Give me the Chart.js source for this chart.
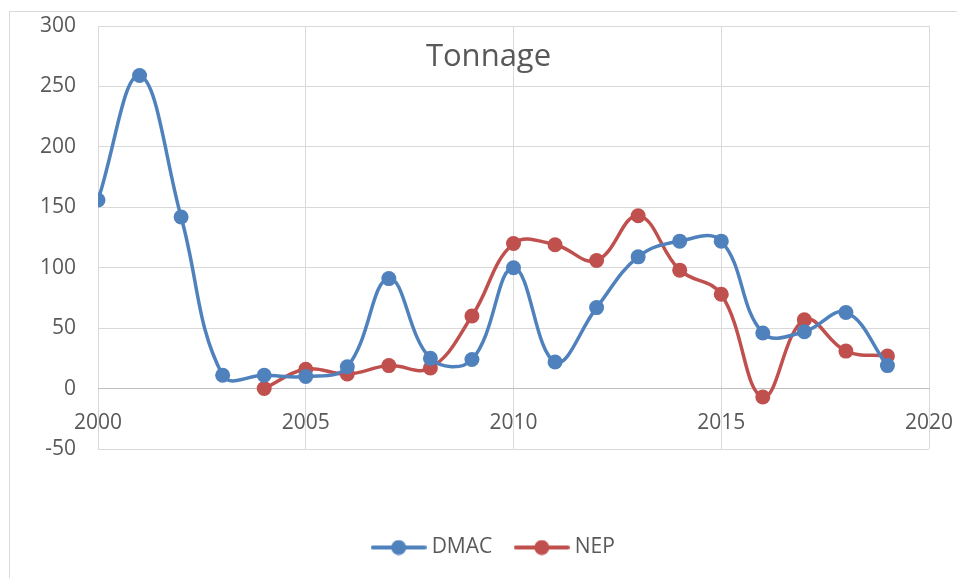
<!DOCTYPE html>
<html>
<head>
<meta charset="utf-8">
<script src="https://cdn.jsdelivr.net/npm/chart.js@4.4.1/dist/chart.umd.min.js"></script>
<style>
  html, body { margin: 0; padding: 0; background: #fff; }
  #wrap { position: relative; width: 957px; height: 578px; overflow: hidden; }
  #frame { position: absolute; left: 9px; top: 11px; width: 1000px; height: 700px;
           border-left: 1px solid #d9d9d9; border-top: 1px solid #d9d9d9; }
  canvas { position: absolute; left: 0; top: 0; }
</style>
</head>
<body>
<div id="wrap">
  <div id="frame"></div>
  <canvas id="chart" width="957" height="578"></canvas>
</div>
<script>
const years = [2000, 2001, 2002, 2003, 2004, 2005, 2006, 2007, 2008, 2009,
               2010, 2011, 2012, 2013, 2014, 2015, 2016, 2017, 2018, 2019];
const dmac = [156, 259, 142, 11, 11, 10, 18, 91, 25, 24,
              100, 22, 67, 109, 122, 122, 46, 47, 63, 19];
const nep = [null, null, null, null, 0, 16, 12, 19, 17, 60,
             120, 119, 106, 143, 98, 78, -7, 57, 31, 27];
const seriesNames = ['DMAC', 'NEP'];
const xMin = 2000, xMax = 2020, xStep = 5;
const yMin = -50, yMax = 300, yStep = 50;
const chartTitle = 'Tonnage';

const BLUE = '#4f81bd';
const RED = '#c0504d';
const TEXT = '#595959';
const GRID = '#d9d9d9';
const FONT = { family: '"Open Sans", sans-serif', size: 21 };

Chart.defaults.font.family = FONT.family;

function points(values) {
  return years.map((x, i) => ({ x, y: values[i] })).filter(p => p.y !== null);
}

// little line + dot sample for the legend
function legendIcon(color) {
  const c = document.createElement('canvas');
  c.width = 56;
  c.height = 16;
  const g = c.getContext('2d');
  g.strokeStyle = color;
  g.lineWidth = 4;
  g.lineCap = 'round';
  g.beginPath();
  g.moveTo(2, 8);
  g.lineTo(54, 8);
  g.stroke();
  g.fillStyle = color;
  g.beginPath();
  g.arc(28, 8, 7.5, 0, Math.PI * 2);
  g.fill();
  return c;
}
const icons = [legendIcon(BLUE), legendIcon(RED)];

const titleInPlot = {
  id: 'titleInPlot',
  beforeDatasetsDraw(chart) {
    const ctx = chart.ctx;
    ctx.save();
    ctx.font = '31px "Open Sans", sans-serif';
    ctx.fillStyle = TEXT;
    ctx.textAlign = 'center';
    ctx.textBaseline = 'alphabetic';
    ctx.fillText(chartTitle, chart.width / 2 + 10, chart.chartArea.top + 40);
    ctx.restore();
  }
};

// legend sits a bit right of centre, like the original
const legendNudge = {
  id: 'legendNudge',
  afterLayout(chart) {
    chart.legend.left += 62;
  }
};

function lineSet(label, values, color) {
  return {
    label,
    data: points(values),
    xAxisID: 'x',
    yAxisID: 'y',
    borderColor: color,
    backgroundColor: color,
    borderWidth: 3.5,
    pointRadius: 7.5,
    pointHoverRadius: 7.5,
    pointBorderWidth: 0,
    pointBackgroundColor: color,
    tension: 0.4,
    fill: false
  };
}

new Chart(document.getElementById('chart'), {
  type: 'line',
  data: {
    datasets: [
      lineSet(seriesNames[0], dmac, BLUE),
      lineSet(seriesNames[1], nep, RED)
    ]
  },
  options: {
    responsive: false,
    animation: false,
    layout: { padding: { left: 0, right: 28, top: 26, bottom: 10 } },
    scales: {
      x: {
        type: 'linear',
        position: { y: 0 },
        min: xMin,
        max: xMax,
        ticks: {
          stepSize: xStep,
          color: TEXT,
          font: FONT,
          padding: 22,
          maxRotation: 0,
          callback: v => String(v)
        },
        grid: { color: GRID, drawTicks: false },
        border: { color: '#bfbfbf' },
        afterFit(scale) { scale.paddingLeft = 0; scale.paddingRight = 0; }
      },
      // empty band between plot and legend
      gap: {
        axis: 'x',
        type: 'linear',
        position: 'bottom',
        min: xMin,
        max: xMax,
        grid: { display: false },
        ticks: { display: false },
        border: { display: false },
        afterFit(scale) { scale.height = 61; scale.paddingLeft = 0; scale.paddingRight = 0; }
      },
      y: {
        min: yMin,
        max: yMax,
        ticks: { stepSize: yStep, color: TEXT, font: FONT, padding: 22 },
        grid: { color: GRID, drawTicks: false },
        border: { display: false },
        afterFit(scale) { scale.width = 98; scale.paddingTop = 0; scale.paddingBottom = 0; }
      }
    },
    plugins: {
      tooltip: { enabled: false },
      legend: {
        position: 'bottom',
        labels: {
          usePointStyle: true,
          pointStyleWidth: 45,
          padding: 27,
          color: TEXT,
          font: FONT,
          generateLabels(chart) {
            return chart.data.datasets.map((ds, i) => ({
              text: ds.label,
              pointStyle: icons[i],
              fillStyle: ds.borderColor,
              strokeStyle: ds.borderColor,
              lineWidth: 0,
              fontColor: TEXT,
              hidden: false,
              datasetIndex: i
            }));
          }
        }
      }
    }
  },
  plugins: [titleInPlot, legendNudge]
});
</script>
</body>
</html>
